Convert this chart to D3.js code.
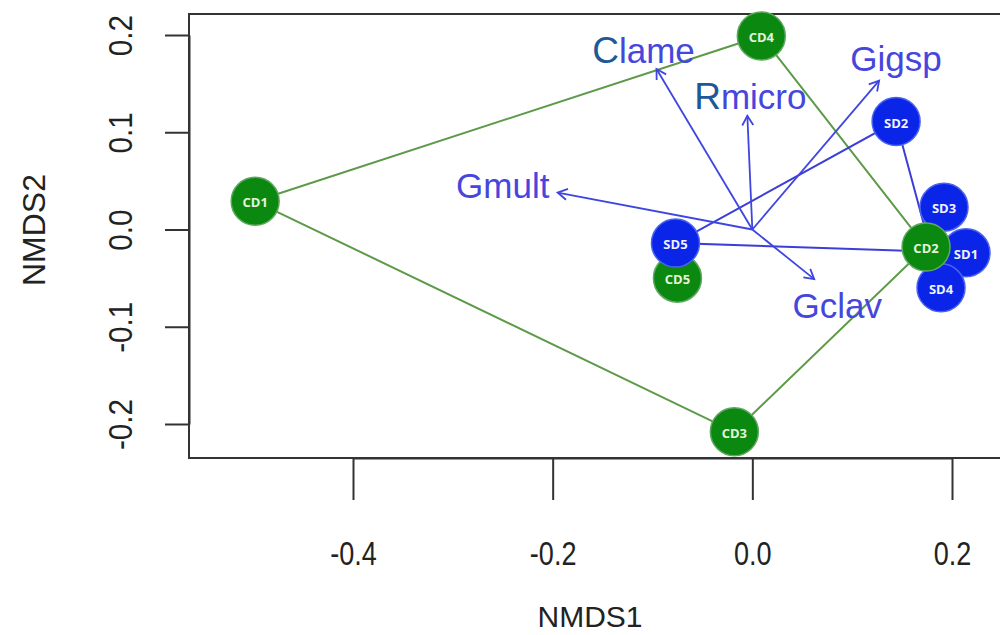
<!DOCTYPE html>
<html><head><meta charset="utf-8">
<script src="https://cdn.jsdelivr.net/npm/d3@7"></script>
<style>body{margin:0;background:#fff}svg{display:block}</style>
</head><body>
<svg id="c" width="1000" height="635"></svg>
<script>
// ---- data ----
const xTicks = [-0.4, -0.2, 0.0, 0.2];
const yTicks = [-0.2, -0.1, 0.0, 0.1, 0.2];
const siteNames = ["CD5","SD1","SD2","SD3","SD4","SD5","CD1","CD2","CD3","CD4"];
const siteX = [-0.075, 0.214, 0.144, 0.192, 0.189, -0.077, -0.498, 0.174, -0.018, 0.009];
const siteY = [-0.050, -0.024, 0.111, 0.023, -0.060, -0.014, 0.029, -0.018, -0.208, 0.199];
const siteGroup = ["C","S","S","S","S","S","C","C","C","C"];
const hullC = ["CD1","CD4","CD2","CD3","CD1"];
const hullS = ["SD1","SD5","SD2","SD4"];
const vecNames = ["Clame","Rmicro","Gigsp","Gmult","Gclav"];
const vecX = [-0.096, -0.005, 0.127, -0.195, 0.062];
const vecY = [0.165, 0.117, 0.153, 0.038, -0.051];
const vecLabX = [-0.109, -0.002, 0.144, -0.250, 0.085];
const vecLabY = [0.185, 0.137, 0.176, 0.045, -0.078];

// ---- chart ----
const svg = d3.select("#c");
const x = d3.scaleLinear().domain([-0.4, 0.2]).range([353, 952]);
const y = d3.scaleLinear().domain([-0.2, 0.2]).range([424, 35]);
const box = {l:189, t:14, r:1012, b:458};

// axes
const fmt = d => (Math.abs(d) < 1e-9 ? 0 : d).toFixed(1);
const gx = svg.append("g").attr("transform", `translate(0,${box.b})`)
  .call(d3.axisBottom(x).tickValues(xTicks).tickFormat(fmt).tickSize(42).tickSizeOuter(0).tickPadding(52));
const gy = svg.append("g").attr("transform", `translate(${box.l},0)`)
  .call(d3.axisLeft(y).tickValues(yTicks).tickFormat(fmt).tickSize(24).tickSizeOuter(0).tickPadding(40));
[gx, gy].forEach(g => {
  g.selectAll("path.domain").attr("stroke", "#333").attr("stroke-width", 2);
  g.selectAll(".tick line").attr("stroke", "#333").attr("stroke-width", 2);
  g.selectAll(".tick text").attr("fill", "#222").attr("font-family", "Liberation Sans, Arial, sans-serif").attr("font-size", 33);
});
gx.selectAll(".tick text").each(function(){
  const t = d3.select(this); const yy = +t.attr("y");
  t.attr("y", 0).attr("dy", null).attr("dominant-baseline", "central")
   .attr("transform", `translate(0,${yy+2}) scale(0.82,1)`);
});
gy.selectAll(".tick text").each(function(){
  const t = d3.select(this); const xx = +t.attr("x");
  t.attr("x", 0).attr("dy", null).attr("text-anchor", "middle").attr("dominant-baseline", "central")
   .attr("transform", `translate(${xx-4},0) rotate(-90) scale(0.9,1)`);
});

// box
svg.append("rect").attr("x", box.l).attr("y", box.t).attr("width", box.r - box.l).attr("height", box.b - box.t)
  .attr("fill", "none").attr("stroke", "#333").attr("stroke-width", 2);

// axis titles
svg.append("text").attr("x", 590).attr("y", 616).attr("text-anchor", "middle").attr("dominant-baseline", "central")
  .attr("font-family", "Liberation Sans, Arial, sans-serif").attr("font-size", 30).attr("fill", "#222").text("NMDS1");
svg.append("text").attr("transform", "translate(34,230) rotate(-90)").attr("text-anchor", "middle").attr("dominant-baseline", "central")
  .attr("font-family", "Liberation Sans, Arial, sans-serif").attr("font-size", 32).attr("fill", "#222").text("NMDS2");

// site lookup
const idx = n => siteNames.indexOf(n);
const line = d3.line().x(n => x(siteX[idx(n)])).y(n => y(siteY[idx(n)]));

// hull lines
svg.append("path").attr("d", line(hullC)).attr("fill", "none").attr("stroke", "#5c9a48").attr("stroke-width", 2);
svg.append("path").attr("d", line(hullS)).attr("fill", "none").attr("stroke", "#3b3fd8").attr("stroke-width", 2);

// vectors
const vcol = "#3f45e0";
const vg = svg.append("g");
vecNames.forEach((n, i) => {
  const x0 = x(0), y0 = y(0), x1 = x(vecX[i]), y1 = y(vecY[i]);
  vg.append("line").attr("x1", x0).attr("y1", y0).attr("x2", x1).attr("y2", y1)
    .attr("stroke", vcol).attr("stroke-width", 1.8);
  const a = Math.atan2(y1 - y0, x1 - x0), L = 11, h = Math.PI / 6;
  const p1 = [x1 - L * Math.cos(a - h), y1 - L * Math.sin(a - h)];
  const p2 = [x1 - L * Math.cos(a + h), y1 - L * Math.sin(a + h)];
  vg.append("path").attr("d", `M${p1}L${x1},${y1}L${p2}`).attr("fill", "none")
    .attr("stroke", vcol).attr("stroke-width", 1.8);
  const t = vg.append("text").attr("x", x(vecLabX[i])).attr("y", y(vecLabY[i]))
    .attr("text-anchor", "middle").attr("dominant-baseline", "central")
    .attr("font-family", "Liberation Sans, Arial, sans-serif").attr("font-size", 35).attr("fill", "#4646dc");
  if (n === "Clame" || n === "Rmicro") {
    t.append("tspan").attr("fill", "#1e5896").attr("font-size", 37).text(n[0]);
    t.append("tspan").text(n.slice(1));
  } else t.text(n);
});

// sites
const sg = svg.append("g");
siteNames.forEach((n, i) => {
  const c = siteGroup[i] === "C";
  sg.append("circle").attr("cx", x(siteX[i])).attr("cy", y(siteY[i])).attr("r", 24)
    .attr("fill", c ? "#0b880f" : "#0a24e8").attr("stroke", c ? "#5fa860" : "#4a62f0").attr("stroke-width", 1.5);
  sg.append("text").attr("x", x(siteX[i])).attr("y", y(siteY[i]) + 1).attr("text-anchor", "middle")
    .attr("dominant-baseline", "central").attr("font-family", "Open Sans, sans-serif").attr("font-weight", "bold")
    .attr("font-size", 13).attr("fill", c ? "#e4f4dc" : "#f0f2ff").text(n);
});
</script>
</body></html>
